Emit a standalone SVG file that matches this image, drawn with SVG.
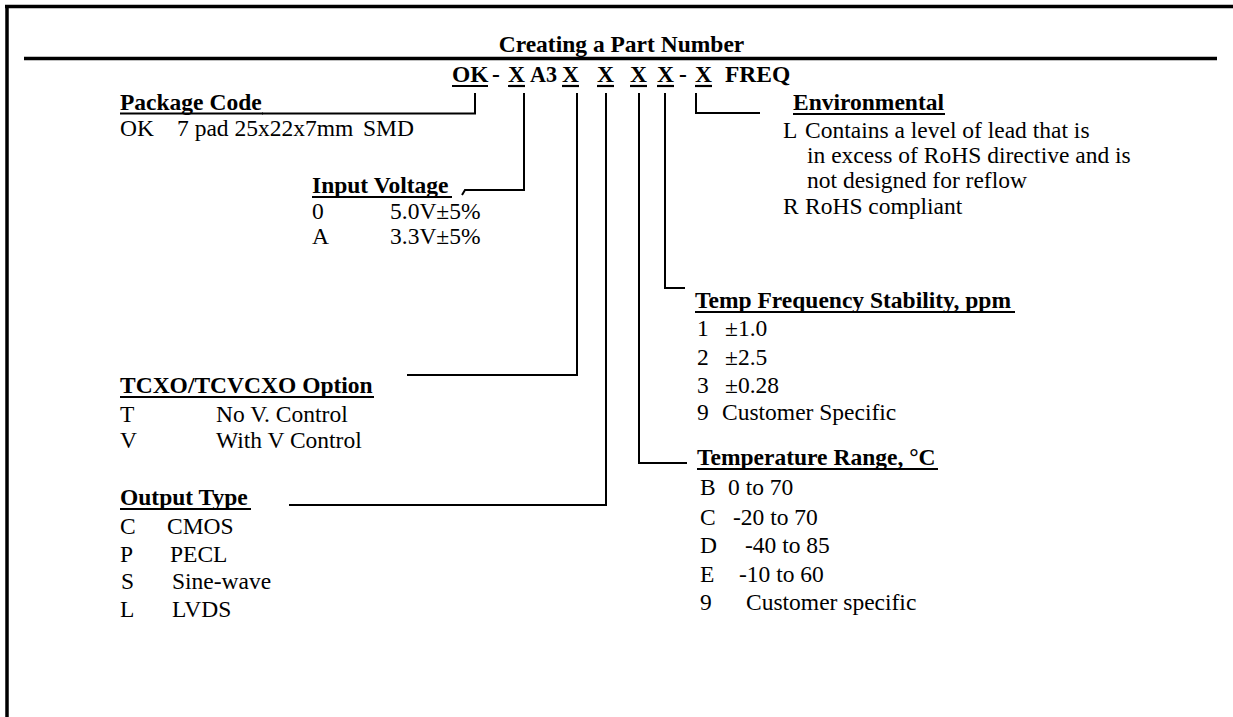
<svg xmlns="http://www.w3.org/2000/svg" width="1233" height="717" viewBox="0 0 1233 717">
<style>
.t{font-family:"Liberation Serif","Times New Roman",serif;font-size:23.5px;fill:#000}
.b{font-weight:bold}
.ln{stroke:#000;stroke-width:2;fill:none}
.ul{stroke:#000;stroke-width:2.2}
.fr{stroke:#000;stroke-width:3.5}
</style>
<rect width="1233" height="717" fill="#fff"/>
<g id="frame">
<line class="fr" x1="5" y1="6.5" x2="1233" y2="6.5"/>
<line class="fr" x1="7" y1="5" x2="7" y2="717"/>
<line class="fr" x1="24" y1="58.5" x2="1217" y2="58.5"/>
</g>
<g id="title">
<text class="t b" x="621.5" y="52" text-anchor="middle">Creating a Part Number</text>
</g>
<g id="part-number">
<text class="t b" y="82"><tspan x="452">OK</tspan><tspan x="492">-</tspan><tspan x="508">X</tspan><tspan x="530" textLength="27" lengthAdjust="spacingAndGlyphs">A3</tspan><tspan x="562">X</tspan><tspan x="597">X</tspan><tspan x="630">X</tspan><tspan x="657">X</tspan><tspan x="679">-</tspan><tspan x="695">X</tspan><tspan x="725">FREQ</tspan></text>
<line class="ul" x1="452" y1="86" x2="488" y2="86"/>
<line class="ul" x1="508" y1="86" x2="525" y2="86"/>
<line class="ul" x1="562" y1="86" x2="579" y2="86"/>
<line class="ul" x1="597" y1="86" x2="614" y2="86"/>
<line class="ul" x1="630" y1="86" x2="647" y2="86"/>
<line class="ul" x1="657" y1="86" x2="674" y2="86"/>
<line class="ul" x1="695" y1="86" x2="712" y2="86"/>
</g>
<g id="connectors">
<path class="ln" d="M475,93 V113.5 H262"/>
<path class="ln" d="M524,93 V190 H465 L462,195"/>
<path class="ln" d="M577,93 V375 H407"/>
<path class="ln" d="M606,93 V505 H289"/>
<path class="ln" d="M639,93 V463 H687"/>
<path class="ln" d="M665,93 V288 H685"/>
<path class="ln" d="M696,93 V113 H760"/>
</g>
<g id="package-code">
<text class="t b" x="120" y="110">Package Code</text>
<line class="ul" x1="120" y1="113.5" x2="263" y2="113.5"/>
<text class="t" y="136"><tspan x="120">OK</tspan><tspan x="177">7 pad 25x22x7mm</tspan><tspan x="363">SMD</tspan></text>
</g>
<g id="input-voltage">
<text class="t b" x="312" y="193">Input Voltage</text>
<line class="ul" x1="312" y1="197" x2="452" y2="197"/>
<text class="t" y="219"><tspan x="312">0</tspan><tspan x="390">5.0V±5%</tspan></text>
<text class="t" y="244"><tspan x="312">A</tspan><tspan x="390">3.3V±5%</tspan></text>
</g>
<g id="tcxo-option">
<text class="t b" x="120" y="393">TCXO/TCVCXO Option</text>
<line class="ul" x1="120" y1="397" x2="374" y2="397"/>
<text class="t" y="422"><tspan x="120">T</tspan><tspan x="216">No V. Control</tspan></text>
<text class="t" y="448"><tspan x="120">V</tspan><tspan x="216">With V Control</tspan></text>
</g>
<g id="output-type">
<text class="t b" x="120" y="505">Output Type</text>
<line class="ul" x1="120" y1="509" x2="251" y2="509"/>
<text class="t" y="534"><tspan x="120">C</tspan><tspan x="167">CMOS</tspan></text>
<text class="t" y="562"><tspan x="120">P</tspan><tspan x="170">PECL</tspan></text>
<text class="t" y="589"><tspan x="121">S</tspan><tspan x="172">Sine-wave</tspan></text>
<text class="t" y="617"><tspan x="120">L</tspan><tspan x="172">LVDS</tspan></text>
</g>
<g id="environmental">
<text class="t b" x="793" y="110">Environmental</text>
<line class="ul" x1="793" y1="114" x2="945" y2="114"/>
<text class="t" y="138"><tspan x="783">L</tspan><tspan x="805">Contains a level of lead that is</tspan></text>
<text class="t" x="807" y="163">in excess of RoHS directive and is</text>
<text class="t" x="807" y="188">not designed for reflow</text>
<text class="t" y="214"><tspan x="783">R</tspan><tspan x="805">RoHS compliant</tspan></text>
</g>
<g id="temp-frequency-stability">
<text class="t b" x="695" y="308">Temp Frequency Stability, ppm</text>
<line class="ul" x1="695" y1="312" x2="1015" y2="312"/>
<text class="t" y="336"><tspan x="697">1</tspan><tspan x="725">±1.0</tspan></text>
<text class="t" y="365"><tspan x="697">2</tspan><tspan x="725">±2.5</tspan></text>
<text class="t" y="393"><tspan x="697">3</tspan><tspan x="725">±0.28</tspan></text>
<text class="t" y="420"><tspan x="697">9</tspan><tspan x="722">Customer Specific</tspan></text>
</g>
<g id="temperature-range">
<text class="t b" x="697" y="465">Temperature Range, °C</text>
<line class="ul" x1="697" y1="469" x2="938" y2="469"/>
<text class="t" y="495"><tspan x="700">B</tspan><tspan x="728">0 to 70</tspan></text>
<text class="t" y="525"><tspan x="700">C</tspan><tspan x="733">-20 to 70</tspan></text>
<text class="t" y="553"><tspan x="700">D</tspan><tspan x="745">-40 to 85</tspan></text>
<text class="t" y="582"><tspan x="700">E</tspan><tspan x="739">-10 to 60</tspan></text>
<text class="t" y="610"><tspan x="700">9</tspan><tspan x="746">Customer specific</tspan></text>
</g>
</svg>
